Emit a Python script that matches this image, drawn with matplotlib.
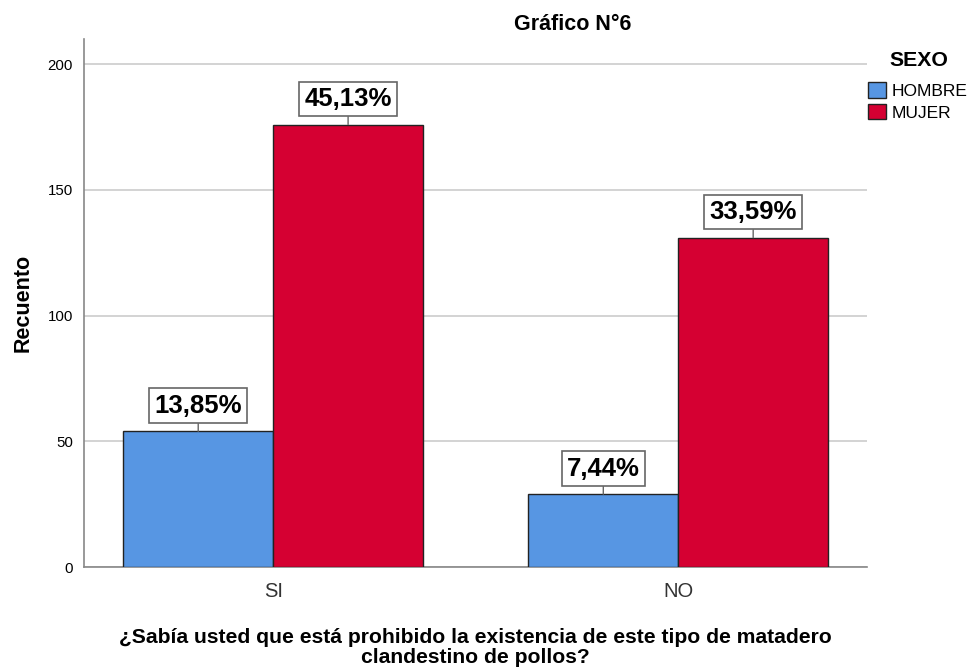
import numpy as np
import matplotlib.pyplot as plt

plt.rcParams['font.family'] = ['Liberation Sans', 'DejaVu Sans']

categorias = ['SI', 'NO']
sexos = ['HOMBRE', 'MUJER']
hombre = [54, 29]
mujer = [176, 131]
pct_hombre = ['13,85%', '7,44%']
pct_mujer = ['45,13%', '33,59%']
colores = ['#5796E3', '#D50032']
pregunta = ['¿Sabía usted que está prohibido la existencia de este tipo de matadero',
            'clandestino de pollos?']

fig = plt.figure(figsize=(9.72, 6.68), dpi=100)
ax = fig.add_axes([0.0864, 0.151, 0.806, 0.7906])

x = np.arange(len(categorias))
w = 0.37
b1 = ax.bar(x - w / 2, hombre, w, color=colores[0], edgecolor='#222222', linewidth=1, label=sexos[0], zorder=3)
b2 = ax.bar(x + w / 2, mujer, w, color=colores[1], edgecolor='#222222', linewidth=1, label=sexos[1], zorder=3)

# etiquetas con el porcentaje sobre cada barra
for bars, textos in [(b1, pct_hombre), (b2, pct_mujer)]:
    for rect, t in zip(bars, textos):
        cx = rect.get_x() + rect.get_width() / 2
        top = rect.get_height()
        ax.annotate(t, xy=(cx, top), xytext=(0, 18.5), textcoords='offset points',
                    ha='center', va='center', fontsize=18.5, fontweight='bold',
                    bbox=dict(boxstyle='square,pad=0.2', fc='white', ec='#666666', lw=1.2),
                    arrowprops=dict(arrowstyle='-', color='#666666', lw=1, shrinkA=0, shrinkB=0),
                    zorder=5)

ax.set_xlim(-0.467, 1.467)
ax.set_ylim(0, 210)
ax.set_yticks([0, 50, 100, 150, 200])
ax.set_xticks(x)
ax.set_xticklabels(categorias, fontsize=14.5, color='#333333')
ax.tick_params(axis='y', labelsize=10.8, length=0, pad=8)
ax.tick_params(axis='x', length=0, pad=11)
ax.grid(axis='y', color='#cccccc', linewidth=1.2, zorder=0)

for s in ['top', 'right']:
    ax.spines[s].set_visible(False)
for s in ['left', 'bottom']:
    ax.spines[s].set_color('#888888')
    ax.spines[s].set_linewidth(1.2)

ax.set_ylabel('Recuento', fontsize=15.5, fontweight='bold', labelpad=10)

# título del eje x en dos líneas, centrado bajo el área de trazado
xc = (0.0864 + 0.0864 + 0.806) / 2
fig.text(xc, 1 - 643 / 668, pregunta[0], ha='center', va='baseline', fontsize=15.2, fontweight='bold')
fig.text(xc, 1 - 663 / 668, pregunta[1], ha='center', va='baseline', fontsize=15.2, fontweight='bold')

fig.text(573 / 972, 1 - 24 / 668, 'Gráfico N°6', ha='center', va='center', fontsize=15.5, fontweight='bold')

# leyenda: título aparte para controlar la separación
fig.text(919 / 972, 1 - 60 / 668, 'SEXO', ha='center', va='center', fontsize=15.3, fontweight='bold')
leg = ax.legend(loc='upper left', bbox_to_anchor=(868 / 972, 1 - 82 / 668), bbox_transform=fig.transFigure,
                frameon=False, fontsize=12.5, handlelength=1.05, handleheight=1.0,
                handletextpad=0.3, labelspacing=0.3, borderpad=0, borderaxespad=0)
for h in leg.legend_handles:
    h.set_edgecolor('#222222')

fig.savefig('out.png', dpi=100)
